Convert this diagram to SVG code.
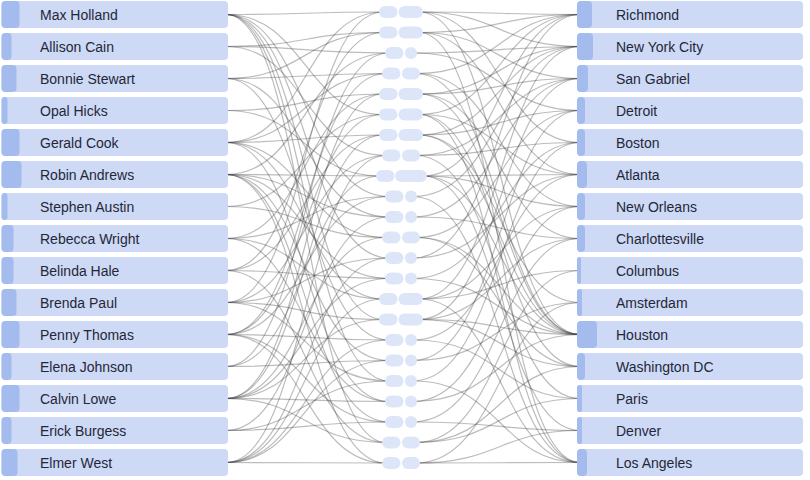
<svg xmlns="http://www.w3.org/2000/svg" width="810" height="480" viewBox="0 0 810 480">
<style>
.bg{fill:#ffffff}
.box{fill:#cdd9f5}
.acc{fill:#a3bbed}
.pill{fill:#dde5f8}
.lbl{font-family:"Liberation Sans",Arial,sans-serif;font-size:14px;fill:#1f2838}
.links path{fill:none;stroke:#3a3a3a;stroke-opacity:0.34;stroke-width:1.2}
</style>
<rect class="bg" x="0" y="0" width="810" height="480"/>
<g id="connectors" class="links">
<path d="M226 14.5C305 14.5 305 12 383 12"/>
<path d="M226 14.5C305 14.5 305 114.5 383 114.5"/>
<path d="M226 14.5C305 14.5 305 196.5 389 196.5"/>
<path d="M226 14.5C305 14.5 305 258 389 258"/>
<path d="M226 14.5C305 14.5 305 319.5 383 319.5"/>
<path d="M226 14.5C305 14.5 305 381 389 381"/>
<path d="M226 14.5C305 14.5 305 442.5 386 442.5"/>
<path d="M226 46.5C305 46.5 305 53 389 53"/>
<path d="M226 46.5C305 46.5 305 155.5 386 155.5"/>
<path d="M226 46.5C305 46.5 305 32.5 383 32.5"/>
<path d="M226 78.5C305 78.5 305 73.5 386 73.5"/>
<path d="M226 78.5C305 78.5 305 32.5 383 32.5"/>
<path d="M226 78.5C305 78.5 305 217 389 217"/>
<path d="M226 78.5C305 78.5 305 340 389 340"/>
<path d="M226 110.5C305 110.5 305 176 380 176"/>
<path d="M226 110.5C305 110.5 305 94 383 94"/>
<path d="M226 142.5C305 142.5 305 12 383 12"/>
<path d="M226 142.5C305 142.5 305 135 383 135"/>
<path d="M226 142.5C305 142.5 305 237.5 386 237.5"/>
<path d="M226 142.5C305 142.5 305 299 383 299"/>
<path d="M226 142.5C305 142.5 305 73.5 386 73.5"/>
<path d="M226 142.5C305 142.5 305 401.5 389 401.5"/>
<path d="M226 174.5C305 174.5 305 176 380 176"/>
<path d="M226 174.5C305 174.5 305 278.5 389 278.5"/>
<path d="M226 174.5C305 174.5 305 360.5 389 360.5"/>
<path d="M226 174.5C305 174.5 305 422 389 422"/>
<path d="M226 174.5C305 174.5 305 463 386 463"/>
<path d="M226 174.5C305 174.5 305 53 389 53"/>
<path d="M226 174.5C305 174.5 305 217 389 217"/>
<path d="M226 206.5C305 206.5 305 237.5 386 237.5"/>
<path d="M226 206.5C305 206.5 305 114.5 383 114.5"/>
<path d="M226 238.5C305 238.5 305 94 383 94"/>
<path d="M226 238.5C305 238.5 305 299 383 299"/>
<path d="M226 238.5C305 238.5 305 401.5 389 401.5"/>
<path d="M226 238.5C305 238.5 305 196.5 389 196.5"/>
<path d="M226 270.5C305 270.5 305 278.5 389 278.5"/>
<path d="M226 270.5C305 270.5 305 135 383 135"/>
<path d="M226 270.5C305 270.5 305 442.5 386 442.5"/>
<path d="M226 270.5C305 270.5 305 32.5 383 32.5"/>
<path d="M226 302.5C305 302.5 305 319.5 383 319.5"/>
<path d="M226 302.5C305 302.5 305 155.5 386 155.5"/>
<path d="M226 302.5C305 302.5 305 12 383 12"/>
<path d="M226 302.5C305 302.5 305 381 389 381"/>
<path d="M226 302.5C305 302.5 305 258 389 258"/>
<path d="M226 334.5C305 334.5 305 340 389 340"/>
<path d="M226 334.5C305 334.5 305 73.5 386 73.5"/>
<path d="M226 334.5C305 334.5 305 196.5 389 196.5"/>
<path d="M226 334.5C305 334.5 305 422 389 422"/>
<path d="M226 334.5C305 334.5 305 114.5 383 114.5"/>
<path d="M226 334.5C305 334.5 305 463 386 463"/>
<path d="M226 366.5C305 366.5 305 360.5 389 360.5"/>
<path d="M226 366.5C305 366.5 305 53 389 53"/>
<path d="M226 366.5C305 366.5 305 176 380 176"/>
<path d="M226 398.5C305 398.5 305 442.5 386 442.5"/>
<path d="M226 398.5C305 398.5 305 94 383 94"/>
<path d="M226 398.5C305 398.5 305 135 383 135"/>
<path d="M226 398.5C305 398.5 305 237.5 386 237.5"/>
<path d="M226 398.5C305 398.5 305 278.5 389 278.5"/>
<path d="M226 398.5C305 398.5 305 401.5 389 401.5"/>
<path d="M226 398.5C305 398.5 305 319.5 383 319.5"/>
<path d="M226 430.5C305 430.5 305 422 389 422"/>
<path d="M226 430.5C305 430.5 305 217 389 217"/>
<path d="M226 430.5C305 430.5 305 381 389 381"/>
<path d="M226 462.5C305 462.5 305 463 386 463"/>
<path d="M226 462.5C305 462.5 305 155.5 386 155.5"/>
<path d="M226 462.5C305 462.5 305 258 389 258"/>
<path d="M226 462.5C305 462.5 305 299 383 299"/>
<path d="M226 462.5C305 462.5 305 340 389 340"/>
<path d="M226 462.5C305 462.5 305 360.5 389 360.5"/>
<path d="M419 12C500 12 500 14.5 580 14.5"/>
<path d="M419 12C500 12 500 46.5 580 46.5"/>
<path d="M419 12C500 12 500 142.5 580 142.5"/>
<path d="M419 12C500 12 500 334.5 580 334.5"/>
<path d="M419 32.5C500 32.5 500 14.5 580 14.5"/>
<path d="M419 32.5C500 32.5 500 78.5 580 78.5"/>
<path d="M419 32.5C500 32.5 500 174.5 580 174.5"/>
<path d="M419 32.5C500 32.5 500 462.5 580 462.5"/>
<path d="M413 53C500 53 500 46.5 580 46.5"/>
<path d="M413 53C500 53 500 110.5 580 110.5"/>
<path d="M416 73.5C500 73.5 500 14.5 580 14.5"/>
<path d="M416 73.5C500 73.5 500 206.5 580 206.5"/>
<path d="M416 73.5C500 73.5 500 334.5 580 334.5"/>
<path d="M419 94C500 94 500 46.5 580 46.5"/>
<path d="M419 94C500 94 500 78.5 580 78.5"/>
<path d="M419 94C500 94 500 238.5 580 238.5"/>
<path d="M419 94C500 94 500 334.5 580 334.5"/>
<path d="M419 114.5C500 114.5 500 14.5 580 14.5"/>
<path d="M419 114.5C500 114.5 500 174.5 580 174.5"/>
<path d="M419 114.5C500 114.5 500 366.5 580 366.5"/>
<path d="M419 114.5C500 114.5 500 462.5 580 462.5"/>
<path d="M419 135C500 135 500 46.5 580 46.5"/>
<path d="M419 135C500 135 500 110.5 580 110.5"/>
<path d="M419 135C500 135 500 302.5 580 302.5"/>
<path d="M419 135C500 135 500 334.5 580 334.5"/>
<path d="M416 155.5C500 155.5 500 78.5 580 78.5"/>
<path d="M416 155.5C500 155.5 500 142.5 580 142.5"/>
<path d="M416 155.5C500 155.5 500 398.5 580 398.5"/>
<path d="M423 176C500 176 500 14.5 580 14.5"/>
<path d="M423 176C500 176 500 174.5 580 174.5"/>
<path d="M423 176C500 176 500 206.5 580 206.5"/>
<path d="M423 176C500 176 500 334.5 580 334.5"/>
<path d="M423 176C500 176 500 430.5 580 430.5"/>
<path d="M413 196.5C500 196.5 500 46.5 580 46.5"/>
<path d="M413 196.5C500 196.5 500 462.5 580 462.5"/>
<path d="M413 217C500 217 500 78.5 580 78.5"/>
<path d="M413 217C500 217 500 238.5 580 238.5"/>
<path d="M416 237.5C500 237.5 500 110.5 580 110.5"/>
<path d="M416 237.5C500 237.5 500 334.5 580 334.5"/>
<path d="M416 237.5C500 237.5 500 366.5 580 366.5"/>
<path d="M413 258C500 258 500 14.5 580 14.5"/>
<path d="M413 258C500 258 500 174.5 580 174.5"/>
<path d="M413 278.5C500 278.5 500 142.5 580 142.5"/>
<path d="M413 278.5C500 278.5 500 334.5 580 334.5"/>
<path d="M419 299C500 299 500 46.5 580 46.5"/>
<path d="M419 299C500 299 500 206.5 580 206.5"/>
<path d="M419 299C500 299 500 270.5 580 270.5"/>
<path d="M419 299C500 299 500 462.5 580 462.5"/>
<path d="M419 319.5C500 319.5 500 78.5 580 78.5"/>
<path d="M419 319.5C500 319.5 500 238.5 580 238.5"/>
<path d="M419 319.5C500 319.5 500 366.5 580 366.5"/>
<path d="M419 319.5C500 319.5 500 334.5 580 334.5"/>
<path d="M413 340C500 340 500 174.5 580 174.5"/>
<path d="M413 340C500 340 500 398.5 580 398.5"/>
<path d="M413 360.5C500 360.5 500 110.5 580 110.5"/>
<path d="M413 360.5C500 360.5 500 302.5 580 302.5"/>
<path d="M413 381C500 381 500 142.5 580 142.5"/>
<path d="M413 381C500 381 500 462.5 580 462.5"/>
<path d="M413 401.5C500 401.5 500 206.5 580 206.5"/>
<path d="M413 401.5C500 401.5 500 334.5 580 334.5"/>
<path d="M413 422C500 422 500 238.5 580 238.5"/>
<path d="M413 422C500 422 500 430.5 580 430.5"/>
<path d="M416 442.5C500 442.5 500 270.5 580 270.5"/>
<path d="M416 442.5C500 442.5 500 366.5 580 366.5"/>
<path d="M416 442.5C500 442.5 500 398.5 580 398.5"/>
<path d="M416 463C500 463 500 302.5 580 302.5"/>
<path d="M416 463C500 463 500 430.5 580 430.5"/>
<path d="M416 463C500 463 500 462.5 580 462.5"/>
</g>
<g id="max-holland"><rect class="box" x="1.5" y="1" width="226.5" height="27" rx="4"/><rect class="acc" x="1.5" y="1" width="18" height="27" rx="4"/><text class="lbl" x="40" y="20">Max Holland</text></g>
<g id="allison-cain"><rect class="box" x="1.5" y="33" width="226.5" height="27" rx="4"/><rect class="acc" x="1.5" y="33" width="10" height="27" rx="4"/><text class="lbl" x="40" y="52">Allison Cain</text></g>
<g id="bonnie-stewart"><rect class="box" x="1.5" y="65" width="226.5" height="27" rx="4"/><rect class="acc" x="1.5" y="65" width="15" height="27" rx="4"/><text class="lbl" x="40" y="84">Bonnie Stewart</text></g>
<g id="opal-hicks"><rect class="box" x="1.5" y="97" width="226.5" height="27" rx="4"/><rect class="acc" x="1.5" y="97" width="6" height="27" rx="3"/><text class="lbl" x="40" y="116">Opal Hicks</text></g>
<g id="gerald-cook"><rect class="box" x="1.5" y="129" width="226.5" height="27" rx="4"/><rect class="acc" x="1.5" y="129" width="18" height="27" rx="4"/><text class="lbl" x="40" y="148">Gerald Cook</text></g>
<g id="robin-andrews"><rect class="box" x="1.5" y="161" width="226.5" height="27" rx="4"/><rect class="acc" x="1.5" y="161" width="20" height="27" rx="4"/><text class="lbl" x="40" y="180">Robin Andrews</text></g>
<g id="stephen-austin"><rect class="box" x="1.5" y="193" width="226.5" height="27" rx="4"/><rect class="acc" x="1.5" y="193" width="6" height="27" rx="3"/><text class="lbl" x="40" y="212">Stephen Austin</text></g>
<g id="rebecca-wright"><rect class="box" x="1.5" y="225" width="226.5" height="27" rx="4"/><rect class="acc" x="1.5" y="225" width="12" height="27" rx="4"/><text class="lbl" x="40" y="244">Rebecca Wright</text></g>
<g id="belinda-hale"><rect class="box" x="1.5" y="257" width="226.5" height="27" rx="4"/><rect class="acc" x="1.5" y="257" width="12" height="27" rx="4"/><text class="lbl" x="40" y="276">Belinda Hale</text></g>
<g id="brenda-paul"><rect class="box" x="1.5" y="289" width="226.5" height="27" rx="4"/><rect class="acc" x="1.5" y="289" width="15" height="27" rx="4"/><text class="lbl" x="40" y="308">Brenda Paul</text></g>
<g id="penny-thomas"><rect class="box" x="1.5" y="321" width="226.5" height="27" rx="4"/><rect class="acc" x="1.5" y="321" width="18" height="27" rx="4"/><text class="lbl" x="40" y="340">Penny Thomas</text></g>
<g id="elena-johnson"><rect class="box" x="1.5" y="353" width="226.5" height="27" rx="4"/><rect class="acc" x="1.5" y="353" width="10" height="27" rx="4"/><text class="lbl" x="40" y="372">Elena Johnson</text></g>
<g id="calvin-lowe"><rect class="box" x="1.5" y="385" width="226.5" height="27" rx="4"/><rect class="acc" x="1.5" y="385" width="18" height="27" rx="4"/><text class="lbl" x="40" y="404">Calvin Lowe</text></g>
<g id="erick-burgess"><rect class="box" x="1.5" y="417" width="226.5" height="27" rx="4"/><rect class="acc" x="1.5" y="417" width="10" height="27" rx="4"/><text class="lbl" x="40" y="436">Erick Burgess</text></g>
<g id="elmer-west"><rect class="box" x="1.5" y="449" width="226.5" height="27" rx="4"/><rect class="acc" x="1.5" y="449" width="16" height="27" rx="4"/><text class="lbl" x="40" y="468">Elmer West</text></g>
<g id="m0"><rect class="pill" x="379" y="6" width="18.5" height="12" rx="6"/><rect class="pill" x="398.5" y="6" width="24.5" height="12" rx="6"/></g>
<g id="m1"><rect class="pill" x="379" y="26.5" width="18.5" height="12" rx="6"/><rect class="pill" x="398.5" y="26.5" width="24.5" height="12" rx="6"/></g>
<g id="m2"><rect class="pill" x="385" y="47" width="18.5" height="12" rx="6"/><rect class="pill" x="405" y="47" width="12" height="12" rx="6"/></g>
<g id="m3"><rect class="pill" x="382" y="67.5" width="18.5" height="12" rx="6"/><rect class="pill" x="402" y="67.5" width="18" height="12" rx="6"/></g>
<g id="m4"><rect class="pill" x="379" y="88" width="18.5" height="12" rx="6"/><rect class="pill" x="398.5" y="88" width="24.5" height="12" rx="6"/></g>
<g id="m5"><rect class="pill" x="379" y="108.5" width="18.5" height="12" rx="6"/><rect class="pill" x="398.5" y="108.5" width="24.5" height="12" rx="6"/></g>
<g id="m6"><rect class="pill" x="379" y="129" width="18.5" height="12" rx="6"/><rect class="pill" x="398.5" y="129" width="24.5" height="12" rx="6"/></g>
<g id="m7"><rect class="pill" x="382" y="149.5" width="18.5" height="12" rx="6"/><rect class="pill" x="402" y="149.5" width="18" height="12" rx="6"/></g>
<g id="m8"><rect class="pill" x="376" y="170" width="18.5" height="12" rx="6"/><rect class="pill" x="395" y="170" width="32" height="12" rx="6"/></g>
<g id="m9"><rect class="pill" x="385" y="190.5" width="18.5" height="12" rx="6"/><rect class="pill" x="405" y="190.5" width="12" height="12" rx="6"/></g>
<g id="m10"><rect class="pill" x="385" y="211" width="18.5" height="12" rx="6"/><rect class="pill" x="405" y="211" width="12" height="12" rx="6"/></g>
<g id="m11"><rect class="pill" x="382" y="231.5" width="18.5" height="12" rx="6"/><rect class="pill" x="402" y="231.5" width="18" height="12" rx="6"/></g>
<g id="m12"><rect class="pill" x="385" y="252" width="18.5" height="12" rx="6"/><rect class="pill" x="405" y="252" width="12" height="12" rx="6"/></g>
<g id="m13"><rect class="pill" x="385" y="272.5" width="18.5" height="12" rx="6"/><rect class="pill" x="405" y="272.5" width="12" height="12" rx="6"/></g>
<g id="m14"><rect class="pill" x="379" y="293" width="18.5" height="12" rx="6"/><rect class="pill" x="398.5" y="293" width="24.5" height="12" rx="6"/></g>
<g id="m15"><rect class="pill" x="379" y="313.5" width="18.5" height="12" rx="6"/><rect class="pill" x="398.5" y="313.5" width="24.5" height="12" rx="6"/></g>
<g id="m16"><rect class="pill" x="385" y="334" width="18.5" height="12" rx="6"/><rect class="pill" x="405" y="334" width="12" height="12" rx="6"/></g>
<g id="m17"><rect class="pill" x="385" y="354.5" width="18.5" height="12" rx="6"/><rect class="pill" x="405" y="354.5" width="12" height="12" rx="6"/></g>
<g id="m18"><rect class="pill" x="385" y="375" width="18.5" height="12" rx="6"/><rect class="pill" x="405" y="375" width="12" height="12" rx="6"/></g>
<g id="m19"><rect class="pill" x="385" y="395.5" width="18.5" height="12" rx="6"/><rect class="pill" x="405" y="395.5" width="12" height="12" rx="6"/></g>
<g id="m20"><rect class="pill" x="385" y="416" width="18.5" height="12" rx="6"/><rect class="pill" x="405" y="416" width="12" height="12" rx="6"/></g>
<g id="m21"><rect class="pill" x="382" y="436.5" width="18.5" height="12" rx="6"/><rect class="pill" x="402" y="436.5" width="18" height="12" rx="6"/></g>
<g id="m22"><rect class="pill" x="382" y="457" width="18.5" height="12" rx="6"/><rect class="pill" x="402" y="457" width="18" height="12" rx="6"/></g>
<g id="richmond"><rect class="box" x="577" y="1" width="226" height="27" rx="4"/><rect class="acc" x="577" y="1" width="15" height="27" rx="4"/><text class="lbl" x="616" y="20">Richmond</text></g>
<g id="new-york-city"><rect class="box" x="577" y="33" width="226" height="27" rx="4"/><rect class="acc" x="577" y="33" width="16" height="27" rx="4"/><text class="lbl" x="616" y="52">New York City</text></g>
<g id="san-gabriel"><rect class="box" x="577" y="65" width="226" height="27" rx="4"/><rect class="acc" x="577" y="65" width="11" height="27" rx="4"/><text class="lbl" x="616" y="84">San Gabriel</text></g>
<g id="detroit"><rect class="box" x="577" y="97" width="226" height="27" rx="4"/><rect class="acc" x="577" y="97" width="8" height="27" rx="4"/><text class="lbl" x="616" y="116">Detroit</text></g>
<g id="boston"><rect class="box" x="577" y="129" width="226" height="27" rx="4"/><rect class="acc" x="577" y="129" width="8" height="27" rx="4"/><text class="lbl" x="616" y="148">Boston</text></g>
<g id="atlanta"><rect class="box" x="577" y="161" width="226" height="27" rx="4"/><rect class="acc" x="577" y="161" width="10" height="27" rx="4"/><text class="lbl" x="616" y="180">Atlanta</text></g>
<g id="new-orleans"><rect class="box" x="577" y="193" width="226" height="27" rx="4"/><rect class="acc" x="577" y="193" width="8" height="27" rx="4"/><text class="lbl" x="616" y="212">New Orleans</text></g>
<g id="charlottesville"><rect class="box" x="577" y="225" width="226" height="27" rx="4"/><rect class="acc" x="577" y="225" width="8" height="27" rx="4"/><text class="lbl" x="616" y="244">Charlottesville</text></g>
<g id="columbus"><rect class="box" x="577" y="257" width="226" height="27" rx="4"/><rect class="acc" x="577" y="257" width="4" height="27" rx="2"/><text class="lbl" x="616" y="276">Columbus</text></g>
<g id="amsterdam"><rect class="box" x="577" y="289" width="226" height="27" rx="4"/><rect class="acc" x="577" y="289" width="5" height="27" rx="2.5"/><text class="lbl" x="616" y="308">Amsterdam</text></g>
<g id="houston"><rect class="box" x="577" y="321" width="226" height="27" rx="4"/><rect class="acc" x="577" y="321" width="20" height="27" rx="4"/><text class="lbl" x="616" y="340">Houston</text></g>
<g id="washington-dc"><rect class="box" x="577" y="353" width="226" height="27" rx="4"/><rect class="acc" x="577" y="353" width="8" height="27" rx="4"/><text class="lbl" x="616" y="372">Washington DC</text></g>
<g id="paris"><rect class="box" x="577" y="385" width="226" height="27" rx="4"/><rect class="acc" x="577" y="385" width="5" height="27" rx="2.5"/><text class="lbl" x="616" y="404">Paris</text></g>
<g id="denver"><rect class="box" x="577" y="417" width="226" height="27" rx="4"/><rect class="acc" x="577" y="417" width="5" height="27" rx="2.5"/><text class="lbl" x="616" y="436">Denver</text></g>
<g id="los-angeles"><rect class="box" x="577" y="449" width="226" height="27" rx="4"/><rect class="acc" x="577" y="449" width="10" height="27" rx="4"/><text class="lbl" x="616" y="468">Los Angeles</text></g>
</svg>
